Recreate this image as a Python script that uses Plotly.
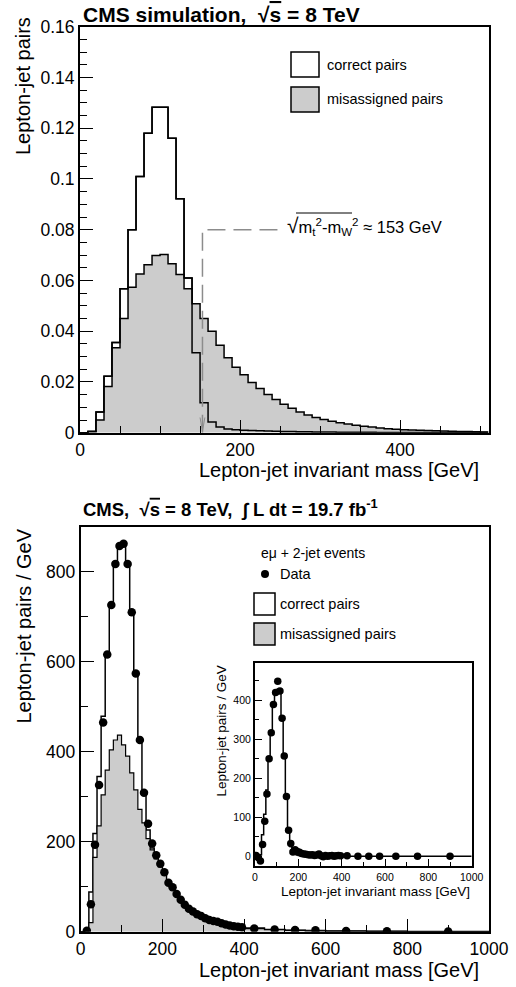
import plotly.graph_objects as go

# ---------------- data ----------------
# top panel: 10 GeV bins from 0 to 510 GeV (normalised simulation)
TOP_BIN_WIDTH = 10
TOP_N_BINS = 51
top_correct = [0, 0.0005, 0.0082, 0.0222, 0.0355, 0.0567, 0.0800, 0.1010, 0.1180, 0.1283,
               0.1283, 0.1160, 0.0922, 0.0610, 0.0315, 0.0118, 0.0042, 0.0022, 0.0015, 0.0012,
               0.0010, 0.0009, 0.0008, 0.0007, 0.0006, 0.0005, 0.0005, 0.0004, 0.0004, 0.0003,
               0.0003, 0.0003, 0.0002, 0.0002, 0.0002, 0.0002, 0.0002, 0.0001, 0.0001, 0.0001,
               0.0001, 0.0001, 0.0001, 0.0001, 0.0001, 0.0001, 0.0001, 0.0001, 0.0001, 0.0001,
               0.0001]
top_misassigned = [0, 0.0005, 0.0050, 0.0182, 0.0335, 0.0450, 0.0573, 0.0625, 0.0662, 0.0698,
                   0.0702, 0.0666, 0.0623, 0.0567, 0.0508, 0.0450, 0.0400, 0.0345, 0.0295, 0.0258,
                   0.0228, 0.0198, 0.0174, 0.0151, 0.0131, 0.0112, 0.0096, 0.0082, 0.0070, 0.0060,
                   0.0052, 0.0045, 0.0039, 0.0034, 0.0029, 0.0025, 0.0022, 0.0019, 0.0016, 0.0014,
                   0.0012, 0.0011, 0.0010, 0.0009, 0.0008, 0.0007, 0.0006, 0.0005, 0.0005, 0.0004,
                   0.0003]
MT_MW = 153          # sqrt(mt^2 - mW^2) in GeV
LABEL_END = 256      # where the dashed guide ends (GeV)
LABEL_LEVEL = 0.08   # height of the dashed guide

# bottom panel: bins of 10 GeV up to 400, then wider bins
bottom_edges = list(range(0, 410, 10)) + [450, 500, 550, 600, 700, 800, 1000]
bottom_total = [0, 3, 88, 218, 345, 479, 619, 728, 822, 862,
                866, 819, 711, 575, 428, 312, 226, 186, 164, 145,
                127, 110, 97, 84, 72, 62, 53, 46, 40, 35,
                30, 26, 23, 20, 18, 16, 14, 12, 11, 10,
                8, 5, 3.5, 2.5, 1.5, 0.8, 0.4]
bottom_misassigned = [0, 1, 20, 165, 235, 304, 359, 404, 426, 437,
                      415, 390, 353, 315, 272, 242, 207, 182, 162, 144,
                      126, 109, 96, 83, 71, 61, 52, 45, 39, 34,
                      29, 25, 22, 19, 17, 15, 13, 11, 10, 9,
                      7, 4.5, 3, 2, 1.2, 0.6, 0.3]
# data points (first bin 0-10 not shown in the main panel)
bottom_data = [2, 61, 193, 326, 465, 616, 726, 817, 857,
               862, 817, 710, 574, 426, 309, 240, 196, 170, 151,
               132, 109, 99, 84, 71, 60, 51, 45, 39, 35,
               30, 26, 24, 22, 19, 16, 14, 12, 11, 10,
               7, 5, 4, 3, 1.5, 0.8, 0.4]
# inset: background-subtracted data and correct-pair expectation
inset_data = [2, -3, -12, 30, 90, 160, 250, 317, 389, 420,
              449, 424, 354, 257, 153, 67, 33, 11, 17, 12,
              10, 7, 6, 5, 4, 3, 4, 2, 3, 6,
              1, -1, 2, 0, 1, 2, 0, 1, 2, 1,
              1, 0, 0, 0, 0, 0, 0]
inset_correct = [0, 0, 4, 55, 108, 170, 255, 320, 388, 420,
                 428, 425, 355, 258, 155, 68, 25, 10, 5, 3,
                 2, 1.5, 1, 1, 0.8, 0.7, 0.6, 0.5, 0.5, 0.4,
                 0.4, 0.3, 0.3, 0.3, 0.2, 0.2, 0.2, 0.2, 0.1, 0.1,
                 0.1, 0.1, 0, 0, 0, 0, 0]

# ---------------- helpers ----------------
W, H = 516, 987
FONT = "Liberation Sans, Arial, Helvetica, sans-serif"
GRAY = "#cccccc"


def px(x):
    return x / W


def py(y):
    return 1 - y / H


def step(edges, vals):
    return list(edges), list(vals) + [vals[-1]]


top_edges = [i * TOP_BIN_WIDTH for i in range(TOP_N_BINS + 1)]
bottom_centers = [(bottom_edges[i] + bottom_edges[i + 1]) / 2 for i in range(len(bottom_edges) - 1)]

fig = go.Figure()

# ---- top panel ----
x, y = step(top_edges, top_correct)
fig.add_trace(go.Scatter(x=x, y=y, mode="lines", line=dict(shape="hv", color="black", width=1.5),
                         fill="tozeroy", fillcolor="white", xaxis="x", yaxis="y", showlegend=False))
x, y = step(top_edges, top_misassigned)
fig.add_trace(go.Scatter(x=x, y=y, mode="lines", line=dict(shape="hv", color="black", width=1.5),
                         fill="tozeroy", fillcolor=GRAY, xaxis="x", yaxis="y", showlegend=False))
x, y = step(top_edges, top_correct)
fig.add_trace(go.Scatter(x=x, y=y, mode="lines", line=dict(shape="hv", color="black", width=1.5),
                         xaxis="x", yaxis="y", showlegend=False))
# dashed guide
fig.add_trace(go.Scatter(x=[MT_MW, MT_MW, LABEL_END], y=[0, LABEL_LEVEL, LABEL_LEVEL], mode="lines",
                         line=dict(color="#8c8c8c", width=1.5, dash="18px,8px"),
                         xaxis="x", yaxis="y", showlegend=False))

# ---- bottom panel ----
x, y = step(bottom_edges, bottom_total)
fig.add_trace(go.Scatter(x=x, y=y, mode="lines", line=dict(shape="hv", color="black", width=1.5),
                         fill="tozeroy", fillcolor="white", xaxis="x2", yaxis="y2", showlegend=False))
x, y = step(bottom_edges, bottom_misassigned)
fig.add_trace(go.Scatter(x=x, y=y, mode="lines", line=dict(shape="hv", color="black", width=1.2),
                         fill="tozeroy", fillcolor=GRAY, xaxis="x2", yaxis="y2", showlegend=False))
fig.add_trace(go.Scatter(x=bottom_centers[1:], y=bottom_data, mode="markers",
                         marker=dict(color="black", size=8.5), xaxis="x2", yaxis="y2", showlegend=False))

# ---- inset ----
x, y = step(bottom_edges, inset_correct)
fig.add_trace(go.Scatter(x=x, y=y, mode="lines", line=dict(shape="hv", color="black", width=1.5),
                         xaxis="x3", yaxis="y3", showlegend=False))
fig.add_trace(go.Scatter(x=bottom_centers, y=inset_data, mode="markers",
                         marker=dict(color="black", size=7.5), xaxis="x3", yaxis="y3", showlegend=False))


def axis(domain, rng, dtick, mdtick, ticklen, mlen, fsize, anchor):
    return dict(domain=domain, range=rng, anchor=anchor, tick0=0, dtick=dtick, automargin=False,
                ticks="inside", ticklen=ticklen, tickwidth=1, tickcolor="black",
                minor=dict(dtick=mdtick, ticks="inside", ticklen=mlen, tickwidth=1, tickcolor="black"),
                showline=True, linewidth=2, linecolor="black", mirror=True,
                showgrid=False, zeroline=False,
                tickfont=dict(family=FONT, size=fsize, color="black"))


TOP_X = [px(80), px(489)]
TOP_Y = [py(432.7), py(26.7)]
BOT_X = [px(80.7), px(489)]
BOT_Y = [py(931.7), py(526.7)]
INS_X = [px(255), px(471.7)]
INS_Y = [py(866), py(663.3)]

fig.update_layout(
    width=W, height=H,
    margin=dict(l=0, r=0, t=0, b=0),
    paper_bgcolor="white", plot_bgcolor="white",
    font=dict(family=FONT, color="black"),
    showlegend=False,
    xaxis=axis(TOP_X, [0, 511], 200, 50, 13, 7, 17.5, "y"),
    yaxis=axis(TOP_Y, [0, 0.16], 0.02, 0.005, 13, 7, 17.5, "x"),
    xaxis2=axis(BOT_X, [0, 1000], 200, 100, 13, 7, 17.5, "y2"),
    yaxis2=axis(BOT_Y, [0, 900], 200, 100, 13, 7, 17.5, "x2"),
    xaxis3=axis(INS_X, [0, 1000], 200, 100, 7, 4, 10.5, "y3"),
    yaxis3=axis(INS_Y, [-25, 495], 100, 50, 7, 4, 10.5, "x3"),
)

ann = []


def text(s, x, y, size, xanchor="left", yanchor="middle", angle=0, bold=False, xref="paper", yref="paper"):
    ann.append(dict(text=("<b>%s</b>" % s) if bold else s, x=x, y=y, xref=xref, yref=yref,
                    xanchor=xanchor, yanchor=yanchor, textangle=angle, showarrow=False,
                    font=dict(family=FONT, size=size, color="black")))


OV = "<span style='text-decoration:overline'>%s</span>"

# titles
text("CMS simulation,&nbsp; √" + OV % "s" + " = 8 TeV", px(81), py(14), 21, bold=True)
text("CMS,&nbsp; √" + OV % "s" + " = 8 TeV,&nbsp; ∫ L dt = 19.7 fb<sup>-1</sup>", px(81), py(509), 18.5, bold=True)
# axis titles
text("Lepton-jet pairs", px(23), py(15), 20, xanchor="center", yanchor="top", angle=-90)
text("Lepton-jet invariant mass [GeV]", px(481), py(470), 20, xanchor="right")
text("Lepton-jet pairs / GeV", px(23), py(527), 20, xanchor="center", yanchor="top", angle=-90)
text("Lepton-jet invariant mass [GeV]", px(481), py(970), 20, xanchor="right")
text("Lepton-jet pairs / GeV", px(221), py(664), 13.5, xanchor="center", yanchor="top", angle=-90)
text("Lepton-jet invariant mass [GeV]", px(472), py(891), 13.5, xanchor="right")

# formula
ann.append(dict(text="<span style='font-size:21px'>√</span>m<sub>t</sub><sup>2</sup>-m<sub>W</sub><sup>2</sup> ≈ 153 GeV",
                x=LABEL_END, y=LABEL_LEVEL, xref="x", yref="y", xanchor="left", yanchor="middle",
                yshift=4, showarrow=False, font=dict(family=FONT, size=16.5, color="black")))

# legends / decorations
shapes = []
# overline of the square root in the formula
shapes.append(dict(type="line", xref="paper", yref="paper", x0=px(296), x1=px(352), y0=py(213), y1=py(213),
                   line=dict(color="black", width=1)))
# small arrow head marking the end point
shapes.append(dict(type="path", xref="x", yref="y",
                   path="M %f %f L %f %f L %f %f" % (MT_MW - 3, 0.006, MT_MW, 0.0005, MT_MW + 3, 0.006),
                   line=dict(color="#8c8c8c", width=1)))


def box(x0, y0, x1, y1, fill):
    shapes.append(dict(type="rect", xref="paper", yref="paper", x0=px(x0), x1=px(x1), y0=py(y1), y1=py(y0),
                       line=dict(color="black", width=1.5), fillcolor=fill))


box(291, 52, 319, 77, "white")
text("correct pairs", px(325), py(64.5), 14.5)
box(291, 87, 319, 112, GRAY)
text("misassigned pairs", px(325), py(99.5), 14.5)

text("eμ + 2-jet events", px(259), py(553), 14)
shapes.append(dict(type="circle", xref="paper", yref="paper", x0=px(261), x1=px(269), y0=py(578), y1=py(570),
                   fillcolor="black", line=dict(color="black", width=0)))
text("Data", px(278), py(574), 14.5)
box(254, 593, 275, 615, "white")
text("correct pairs", px(278), py(604), 14.5)
box(254, 623, 275, 645, GRAY)
text("misassigned pairs", px(278), py(634), 14.5)

fig.update_layout(annotations=ann, shapes=shapes)
fig.write_html("out.html", config={"displayModeBar": False},
               post_script="document.body.style.margin='0px';document.body.style.overflow='hidden';")
